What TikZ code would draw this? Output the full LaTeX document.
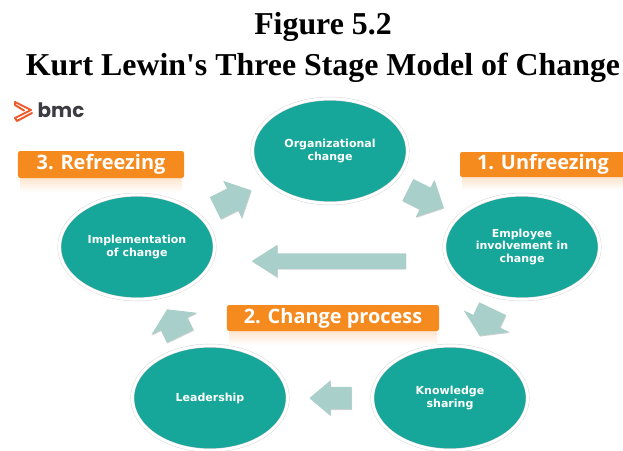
\documentclass[tikz,border=0pt]{standalone}
\usepackage{fontspec}
\setmainfont{Liberation Serif}
\newfontfamily\circlefont{DejaVu Sans}
\newfontfamily\tagfont{Open Sans}
\newfontfamily\logofont{Poppins}
\usetikzlibrary{shapes.geometric,shapes.arrows,shadows}
\definecolor{stageteal}{HTML}{16A79A}
\definecolor{stageorange}{HTML}{F58A1F}
\definecolor{arrowgreen}{HTML}{A9CFCB}
\definecolor{logored}{HTML}{EE5A2B}
\definecolor{logogray}{HTML}{3C3C42}
\tikzset{
	stagecircle/.style={ellipse,fill=stageteal,draw=black!16,line width=.4pt,double=white,double distance=2.4pt,minimum width=4.66cm,minimum height=3.14cm,inner sep=0pt,align=center,text=white,font=\circlefont\bfseries\fontsize{9.4}{10.4}\selectfont},
	stagetag/.style={rounded corners=2pt,fill=stageorange,text=white,inner sep=0pt,font=\tagfont\bfseries\fontsize{17}{17}\selectfont},
	titletext/.style={inner sep=0pt,font=\bfseries\fontsize{27.2}{27.2}\selectfont},
	blockarrow/.style={single arrow,fill=arrowgreen,inner sep=0pt,shape border rotate=0,sloped,allow upside down,text height=#1,text depth=#1,drop shadow={shadow xshift=.5pt,shadow yshift=-.7pt,opacity=.35}},
}
\begin{document}
\begin{tikzpicture}[x=.03cm,y=-.03cm,line join=round,line cap=round]
	\useasboundingbox (0,0) rectangle (623,450);
	\node[titletext] (titlea) at (323,27) {Figure 5.2};
	\node[titletext] (titleb) at (323,68) {Kurt Lewin\textquotesingle s Three Stage Model of Change};
	% logo
	\draw[logored,line width=1.7pt] (15,102)--(31,110)--(15,118)--(17,121)--(32,113);
	\draw[logored,line width=1.7pt] (15,102)--(15,105)--(24,110.5);
	\node[text=logogray,inner sep=0pt] (logo) at (61,110) {\logofont\bfseries\fontsize{17}{17}\selectfont bmc};
	% circles
	\node[stagecircle] (organization) at (330,151) {Organizational\\change};
	\node[stagecircle] (employee) at (522,247) {Employee\\involvement in\\change};
	\node[stagecircle] (knowledge) at (450,398) {Knowledge\\sharing};
	\node[stagecircle] (leadership) at (210,398) {Leadership};
	\node[stagecircle] (implementation) at (137,247) {Implementation\\of change};
	% arrows
	\path (implementation.center)--node[pos=.47,blockarrow=.36cm,minimum height=1.2cm,minimum width=1.23cm,single arrow head extend=.255cm] (arrowa) {}(organization.center);
	\path (organization.center)--node[pos=.47,blockarrow=.36cm,minimum height=1.2cm,minimum width=1.23cm,single arrow head extend=.255cm] (arrowb) {}(employee.center);
	\path (employee.center)--node[pos=.47,blockarrow=.435cm,minimum height=.9cm,minimum width=1.5cm,single arrow head extend=.315cm,single arrow tip angle=115] (arrowc) {}(knowledge.center);
	\path (knowledge.center)--node[pos=.47,blockarrow=.33cm,minimum height=1.26cm,minimum width=1.05cm,single arrow head extend=.195cm,single arrow tip angle=80] (arrowd) {}(leadership.center);
	\path (leadership.center)--node[pos=.47,blockarrow=.435cm,minimum height=.9cm,minimum width=1.5cm,single arrow head extend=.315cm,single arrow tip angle=115] (arrowe) {}(implementation.center);
	\path ([yshift=-12pt]employee.center)--node[pos=.486,blockarrow=.225cm,minimum height=4.62cm,minimum width=.96cm,single arrow head extend=.255cm,single arrow tip angle=65] (arrowf) {}([yshift=-12pt]implementation.center);
	% tags
	\fill[top color=stageorange!22,bottom color=white] (20,178) rectangle (182,192);
	\fill[top color=stageorange!22,bottom color=white] (462,177) rectangle (623,190);
	\fill[top color=stageorange!22,bottom color=white] (229,331) rectangle (437,345);
	\node[stagetag,minimum width=4.98cm,minimum height=.81cm] (refreezing) at (101,164.5) {3. Refreezing};
	\node[stagetag,minimum width=4.98cm,minimum height=.75cm] (unfreezing) at (543,164.5) {1. Unfreezing};
	\node[stagetag,minimum width=6.36cm,minimum height=.78cm] (process) at (333,318) {2. Change process};
\end{tikzpicture}
\end{document}
